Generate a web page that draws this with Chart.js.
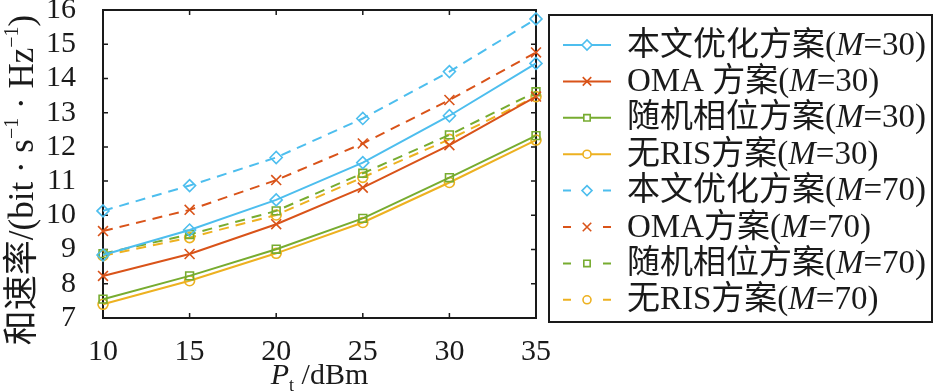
<!DOCTYPE html>
<html>
<head>
<meta charset="utf-8">
<script src="https://cdn.jsdelivr.net/npm/chart.js@4.4.1/dist/chart.umd.min.js"></script>
<style>
  html, body { margin: 0; padding: 0; background: #fff; }
</style>
</head>
<body>
<canvas id="c" width="934" height="392"></canvas>
<script>
// transmit power P_t (dBm)
const pt = [10, 15, 20, 25, 30, 35];
const xTicks = [10, 15, 20, 25, 30, 35];
const yTicks = [7, 8, 9, 10, 11, 12, 13, 14, 15, 16];

// sum rate (bit/s/Hz)
const opt30   = [8.84, 9.57, 10.45, 11.54, 12.91, 14.44];
const oma30   = [8.23, 8.87, 9.74, 10.81, 12.05, 13.47];
const rand30  = [7.55, 8.23, 9.01, 9.91, 11.10, 12.33];
const noris30 = [7.40, 8.09, 8.89, 9.79, 10.96, 12.20];
const opt70   = [10.13, 10.87, 11.69, 12.83, 14.20, 15.74];
const oma70   = [9.54, 10.16, 11.03, 12.10, 13.37, 14.76];
const rand70  = [8.88, 9.44, 10.13, 11.23, 12.35, 13.61];
const noris70 = [8.82, 9.35, 10.01, 11.11, 12.22, 13.47];

// legend text: [before italic M, M, after]
const labels = [
  ["本文优化方案(", "M", "=30)"],
  ["OMA 方案(", "M", "=30)"],
  ["随机相位方案(", "M", "=30)"],
  ["无RIS方案(", "M", "=30)"],
  ["本文优化方案(", "M", "=70)"],
  ["OMA方案(", "M", "=70)"],
  ["随机相位方案(", "M", "=70)"],
  ["无RIS方案(", "M", "=70)"]
];

const BLUE = "#4DBEEE", RED = "#D95319", GREEN = "#77AC30", YELLOW = "#EDB120";
const SERIF = "'Liberation Serif', 'Noto Sans CJK SC', serif";
const INK = "#1a1a1a";

const styles = [
  { c: BLUE,   p: "rectRot",  r: 6 },
  { c: RED,    p: "crossRot", r: 7 },
  { c: GREEN,  p: "rect",     r: 5.5 },
  { c: YELLOW, p: "circle",   r: 5 }
];
const series = [opt30, oma30, rand30, noris30, opt70, oma70, rand70, noris70];

const datasets = series.map((d, i) => {
  const s = styles[i % 4], dashed = i >= 4;
  return {
    label: labels[i].join(""),
    data: pt.map((x, k) => ({ x, y: d[k] })),
    borderColor: s.c,
    borderWidth: 2,
    borderDash: dashed ? [10, 7] : [],
    pointStyle: s.p,
    pointRadius: s.r,
    pointBorderWidth: 1.6,
    pointBorderColor: s.c,
    pointBackgroundColor: "rgba(0,0,0,0)",
    tension: 0,
    clip: false
  };
});

// draw rich text pieces [text, font, dy] in a row
function rich(ctx, parts, x, y, align) {
  let w = 0;
  for (const p of parts) { ctx.font = p[1]; w += ctx.measureText(p[0]).width; }
  let cx = align === "center" ? x - w / 2 : x;
  for (const p of parts) {
    ctx.font = p[1];
    ctx.fillText(p[0], cx, y + (p[2] || 0));
    cx += ctx.measureText(p[0]).width;
  }
}

const frame = {
  id: "frame",
  beforeDatasetsDraw(chart) {
    const { ctx, chartArea: a, scales: { x, y } } = chart;
    ctx.save();
    ctx.strokeStyle = INK; ctx.lineWidth = 2;
    ctx.strokeRect(a.left, a.top, a.right - a.left, a.bottom - a.top);
    ctx.lineWidth = 1.5;
    ctx.beginPath();
    for (const v of xTicks) {
      const px = x.getPixelForValue(v);
      ctx.moveTo(px, a.bottom); ctx.lineTo(px, a.bottom - 5);
      ctx.moveTo(px, a.top); ctx.lineTo(px, a.top + 5);
    }
    for (const v of yTicks) {
      const py = y.getPixelForValue(v);
      ctx.moveTo(a.left, py); ctx.lineTo(a.left + 5, py);
      ctx.moveTo(a.right, py); ctx.lineTo(a.right - 5, py);
    }
    ctx.stroke();
    ctx.restore();
  },
  afterDraw(chart) {
    const { ctx, chartArea: a } = chart;
    ctx.save();
    ctx.fillStyle = INK;
    ctx.textBaseline = "alphabetic";

    // x title: P_t /dBm
    rich(ctx, [
      ["P", "italic 30px " + SERIF, 0],
      ["t", "18px " + SERIF, 7],
      [" /dBm", "30px " + SERIF, 0]
    ], (a.left + a.right) / 2, 384, "center");

    // y title
    ctx.save();
    ctx.translate(33, 180);
    ctx.rotate(-Math.PI / 2);
    const f = "35px " + SERIF, fs = "20px " + SERIF;
    rich(ctx, [
      ["和速率/(bit · s", f, 0],
      ["−1", fs, -15],
      [" · Hz", f, 0],
      ["−1", fs, -15],
      [")", f, 0]
    ], 0, 0, "center");
    ctx.restore();

    // legend
    ctx.strokeStyle = INK; ctx.lineWidth = 2;
    ctx.strokeRect(549, 15, 383, 307);
    labels.forEach((lab, i) => {
      const s = styles[i % 4], dashed = i >= 4;
      const cy = 45 + i * 36.4;
      ctx.strokeStyle = s.c; ctx.lineWidth = 2;
      ctx.beginPath();
      if (dashed) {
        ctx.moveTo(563, cy); ctx.lineTo(571, cy);
        ctx.moveTo(603, cy); ctx.lineTo(611, cy);
      } else {
        ctx.moveTo(563, cy); ctx.lineTo(611, cy);
      }
      ctx.stroke();
      ctx.fillStyle = "#fff";
      ctx.lineWidth = 1.6;
      Chart.helpers.drawPoint(ctx, { pointStyle: s.p, radius: s.r - 1, rotation: 0, borderWidth: 1.6 }, 587, cy);
      ctx.fillStyle = INK;
      ctx.textBaseline = "middle";
      rich(ctx, [
        [lab[0], "33px " + SERIF, 0],
        [lab[1], "italic 33px " + SERIF, 0],
        [lab[2], "33px " + SERIF, 0]
      ], 627, cy + 1, "left");
    });
    ctx.restore();
  }
};

new Chart(document.getElementById("c"), {
  type: "line",
  data: { datasets },
  options: {
    responsive: false,
    devicePixelRatio: 1,
    animation: false,
    layout: { padding: { top: 10, right: 398, left: 0, bottom: 0 } },
    plugins: { legend: { display: false }, tooltip: { enabled: false } },
    scales: {
      x: {
        type: "linear", min: 10, max: 35,
        afterBuildTicks: s => { s.ticks = xTicks.map(v => ({ value: v })); },
        afterFit: s => { s.height = 74; s.paddingLeft = 0; s.paddingRight = 0; },
        grid: { display: false }, border: { display: false },
        ticks: { color: INK, padding: 8, maxRotation: 0, autoSkip: false, font: { family: SERIF, size: 30 } }
      },
      y: {
        min: 7, max: 16,
        afterBuildTicks: s => { s.ticks = yTicks.map(v => ({ value: v })); },
        afterFit: s => { s.width = 103; s.paddingTop = 0; s.paddingBottom = 0; },
        grid: { display: false }, border: { display: false },
        ticks: { color: INK, padding: 19, autoSkip: false, font: { family: SERIF, size: 30 } }
      }
    }
  },
  plugins: [frame]
});
</script>
</body>
</html>
